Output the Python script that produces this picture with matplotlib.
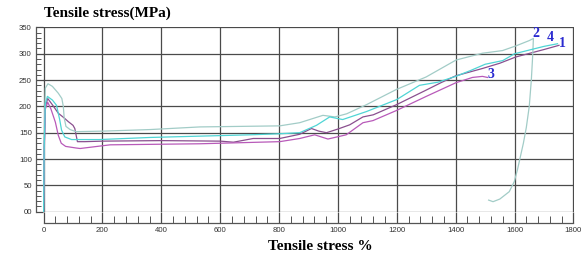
import matplotlib

matplotlib.use("Agg")
import matplotlib.pyplot as plt
from matplotlib.ticker import FuncFormatter, MultipleLocator

# strain (%) / stress (MPa), one pair per specimen
strain_1 = [0, 2, 6, 14, 30, 50, 70, 84, 100, 106, 115, 140, 200, 400, 600, 645,
            712, 802, 870, 910, 935, 961, 1000, 1040, 1085, 1120, 1198, 1300,
            1350, 1400, 1491, 1550, 1605, 1700, 1751]
stress_1 = [0, 120, 200, 215, 203, 187, 178, 171, 164, 158, 133, 133, 134, 135,
            134, 132, 139, 139, 147, 158, 153, 150, 157, 165, 180, 184, 203, 231,
            245, 258, 272, 282, 294, 308, 316]

strain_2 = [0, 2, 6, 15, 30, 50, 62, 67, 70, 76, 90, 110, 200, 362, 531, 802,
            870, 949, 990, 1030, 1096, 1198, 1300, 1401, 1491, 1559, 1605, 1650,
            1664, 1662, 1657, 1650, 1640, 1630, 1620, 1610, 1599, 1582, 1550,
            1527, 1512]
stress_2 = [0, 150, 235, 243, 238, 225, 215, 200, 178, 162, 156, 152, 153, 156,
            161, 163, 169, 183, 180, 186, 203, 232, 256, 288, 301, 306, 315, 325,
            329, 300, 250, 200, 160, 130, 105, 80, 57, 38, 24, 19, 22]

strain_3 = [0, 2, 6, 14, 25, 40, 50, 60, 75, 110, 124, 226, 531, 802, 870, 921,
            966, 1028, 1085, 1119, 1198, 1300, 1401, 1457, 1491, 1508]
stress_3 = [0, 110, 195, 208, 195, 170, 145, 130, 124, 121, 120, 127, 129, 133,
            139, 146, 138, 146, 169, 173, 192, 219, 245, 255, 257, 255]

strain_4 = [0, 2, 6, 13, 30, 44, 55, 61, 72, 95, 190, 362, 701, 802, 870, 927,
            972, 1016, 1096, 1200, 1277, 1340, 1400, 1450, 1500, 1560, 1600,
            1650, 1700, 1746]
stress_4 = [0, 120, 205, 219, 212, 202, 174, 155, 142, 137, 137, 141, 146, 148,
            150, 164, 180, 175, 190, 213, 240, 246, 257, 268, 280, 287, 300, 307,
            314, 319]

curve_names = ["1", "2", "3", "4"]
curve_colors = ["#8a4f8f", "#a2ccc7", "#b85ab9", "#4fd5d5"]
# where each curve number is written (data coords)
name_x = [1762, 1674, 1520, 1723]
name_y = [320, 338, 260, 331]


def main() -> None:
    fig = plt.figure(figsize=(5.85, 2.57), dpi=100)
    ax = fig.add_axes([43 / 585, 1 - 212 / 257, 531 / 585, 185 / 257])

    series = [(strain_1, stress_1), (strain_2, stress_2),
              (strain_3, stress_3), (strain_4, stress_4)]
    for (xs, ys), color in zip(series, curve_colors):
        ax.plot(xs, ys, color=color, lw=0.9, zorder=3)

    for name, tx, ty in zip(curve_names, name_x, name_y):
        ax.text(tx, ty, name, color="#2a2ad0", fontsize=10, fontweight="bold",
                family="Liberation Serif", ha="center", va="center", zorder=4)

    ax.set_xlim(-2, 1802)
    ax.set_ylim(-0.6, 350.8)
    ax.xaxis.set_major_locator(MultipleLocator(200))
    ax.xaxis.set_minor_locator(MultipleLocator(40))
    ax.yaxis.set_major_locator(MultipleLocator(50))
    ax.yaxis.set_minor_locator(MultipleLocator(10))
    ax.yaxis.set_major_formatter(FuncFormatter(lambda v, _: "00" if v == 0 else f"{v:.0f}"))
    ax.grid(True, which="major", color="#4a4a4a", lw=0.9, zorder=1)

    for side in ("top", "right"):
        ax.spines[side].set_visible(False)
    ax.spines["left"].set_position(("outward", 5))
    ax.spines["left"].set_bounds(0, 350)
    ax.spines["bottom"].set_position(("outward", 8))
    ax.spines["bottom"].set_bounds(0, 1800)
    for side in ("left", "bottom"):
        ax.spines[side].set_color("#555555")
        ax.spines[side].set_linewidth(0.9)

    ax.tick_params(axis="y", which="major", direction="in", length=5.2, width=0.9,
                   color="#4a4a4a", pad=3, labelsize=5.6, labelcolor="#333333")
    ax.tick_params(axis="y", which="minor", direction="in", length=3.8, width=0.7,
                   color="#555555")
    ax.tick_params(axis="x", which="major", direction="in", length=8, width=0.9,
                   color="#4a4a4a", pad=3, labelsize=5.6, labelcolor="#333333")
    ax.tick_params(axis="x", which="minor", direction="in", length=4.8, width=0.7,
                   color="#555555")
    for lab in ax.get_xticklabels() + ax.get_yticklabels():
        lab.set_family("Liberation Sans")

    fig.text(44 / 585, 1 - 13 / 257, "Tensile stress(MPa)", fontsize=11,
             fontweight="bold", family="Liberation Serif", ha="left", va="center")
    fig.text(320 / 585, 1 - 246 / 257, "Tensile stress %", fontsize=11,
             fontweight="bold", family="Liberation Serif", ha="center", va="center")

    fig.savefig("out.png", dpi=100)


if __name__ == "__main__":
    main()
